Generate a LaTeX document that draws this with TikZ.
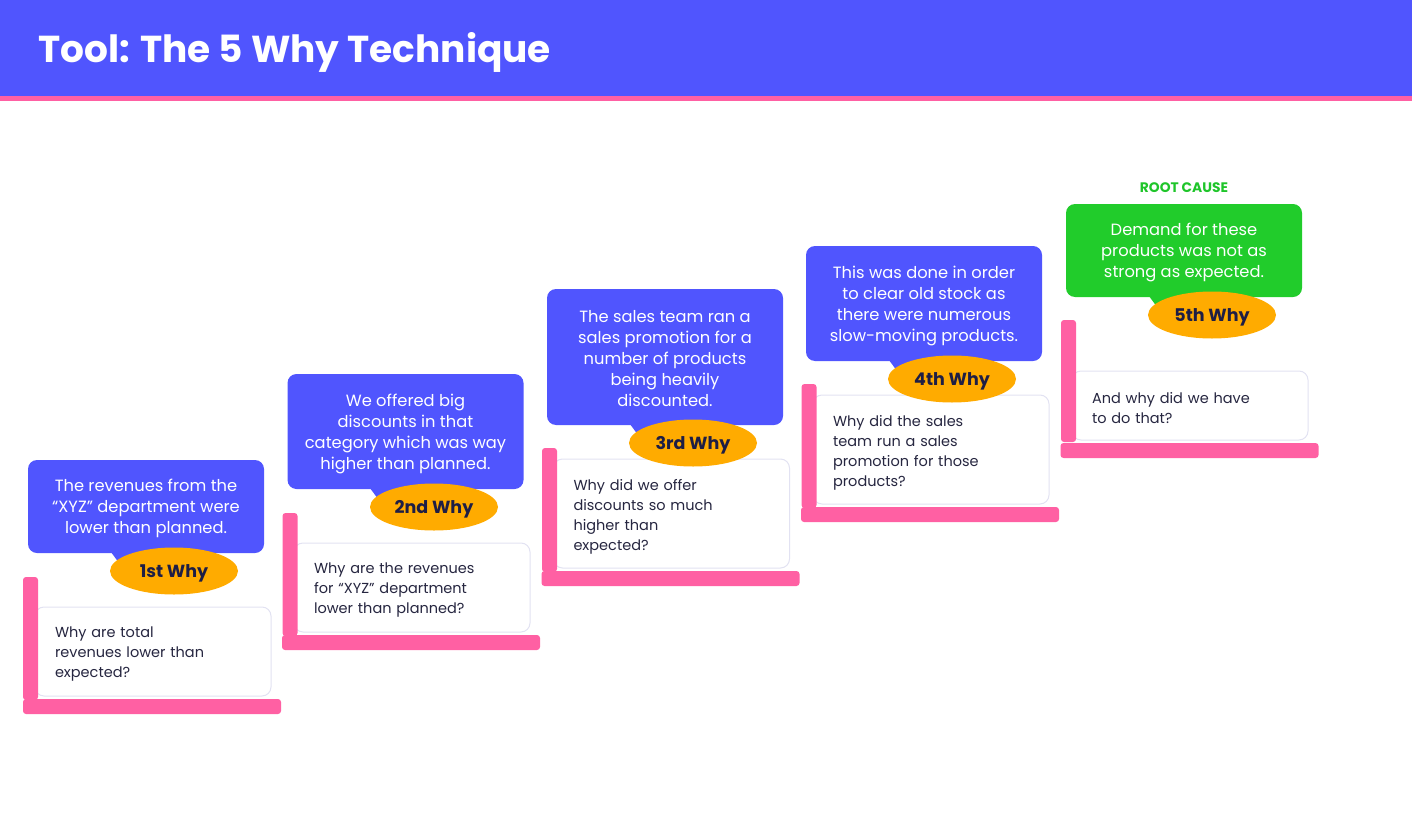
\documentclass[tikz,border=0pt]{standalone}
\usepackage{fontspec}
\setmainfont{Poppins}
\usetikzlibrary{shapes.geometric}
\definecolor{hblue}{HTML}{5055FE}
\definecolor{hpink}{HTML}{FF60A3}
\definecolor{horange}{HTML}{FFAB00}
\definecolor{hgreen}{HTML}{21CC2B}
\definecolor{rgreen}{HTML}{1FC52A}
\definecolor{navy}{HTML}{1E1E45}
\definecolor{qtext}{HTML}{262640}
\definecolor{boxline}{HTML}{E2E2F2}
\tikzset{
  bubble/.style={fill=hblue, rounded corners=9pt, minimum width=236pt, inner sep=0pt},
  greenbubble/.style={bubble, fill=hgreen},
  btext/.style={text=white, align=center, inner sep=0pt, yshift=-2pt, font=\fontsize{16.3}{21}\selectfont},
  tailshape/.style={fill=hblue},
  whylabel/.style={ellipse, fill=horange, minimum width=128pt, minimum height=47pt, inner sep=0pt},
  wtext/.style={text=navy, inner sep=0pt, yshift=-2pt, font=\fontsize{17.5}{20}\bfseries\selectfont},
  qbox/.style={draw=boxline, line width=1pt, fill=white, rounded corners=9pt, minimum width=236pt, inner sep=0pt},
  qtextst/.style={text width=196pt, inner sep=0pt, align=left, text=qtext, yshift=-3pt,
    font=\fontsize{14.5}{20}\selectfont},
  vbar/.style={fill=hpink, rounded corners=3pt, minimum width=15pt, inner sep=0pt},
  hbar/.style={fill=hpink, rounded corners=3pt, minimum height=15pt, minimum width=258pt, inner sep=0pt},
}
\begin{document}
\begin{tikzpicture}[x=1pt,y=-1pt]
\useasboundingbox (0,0) rectangle (1412,821);
% header
\fill[hblue] (0,0) rectangle (1412,97);
\fill[hpink] (0,96) rectangle (1412,101);
\node[anchor=west, text=white, font=\fontsize{37.5}{44}\bfseries\selectfont, inner sep=0pt] (title) at (38,52.5) {Tool: The 5 Why Technique};

% ---------- step 1
\node[qbox, minimum height=89pt] (q1) at (153,651.5) {};
\node[qtextst] (q1t) at (q1) {Why are total\\revenues lower than\\expected?};
\node[vbar, minimum height=123pt] (v1) at (30.5,638.5) {};
\node[hbar] (h1) at (152,706.5) {};
\fill[tailshape] (108,548) -- (142,548) -- (122,567) -- cycle;
\node[bubble, minimum height=93pt] (b1) at (146,506.5) {};
\node[btext] (b1t) at (b1) {The revenues from the\\“XYZ” department were\\lower than planned.};
\node[whylabel] (w1) at (174,571) {};
\node[wtext] (w1t) at (w1) {1st Why};

% ---------- step 2
\node[qbox, minimum height=89pt] (q2) at (412,587.5) {};
\node[qtextst] (q2t) at (q2) {Why are the revenues\\for “XYZ” department\\lower than planned?};
\node[vbar, minimum height=123pt] (v2) at (290,574.5) {};
\node[hbar] (h2) at (411,642.5) {};
\fill[tailshape] (367,484) -- (401,484) -- (381,503) -- cycle;
\node[bubble, minimum height=115pt] (b2) at (405.5,431.5) {};
\node[btext] (b2t) at (b2) {We offered big\\discounts in that\\category which was way\\higher than planned.};
\node[whylabel] (w2) at (434,507) {};
\node[wtext] (w2t) at (w2) {2nd Why};

% ---------- step 3
\node[qbox, minimum height=109pt] (q3) at (671.5,513.5) {};
\node[qtextst] (q3t) at (q3) {Why did we offer\\discounts so much\\higher than\\expected?};
\node[vbar, minimum height=124pt] (v3) at (549.5,510) {};
\node[hbar] (h3) at (670.5,578.5) {};
\fill[tailshape] (627,420) -- (661,420) -- (641,439) -- cycle;
\node[bubble, minimum height=136pt] (b3) at (665,357) {};
\node[btext] (b3t) at (b3) {The sales team ran a\\sales promotion for a\\number of products\\being heavily\\discounted.};
\node[whylabel] (w3) at (693,443) {};
\node[wtext] (w3t) at (w3) {3rd Why};

% ---------- step 4
\node[qbox, minimum height=109pt] (q4) at (931,449.5) {};
\node[qtextst] (q4t) at (q4) {Why did the sales\\team run a sales\\promotion for those\\products?};
\node[vbar, minimum height=124pt] (v4) at (809,446) {};
\node[hbar] (h4) at (930,514.5) {};
\fill[tailshape] (886,356) -- (920,356) -- (900,375) -- cycle;
\node[bubble, minimum height=115pt] (b4) at (924,303.5) {};
\node[btext] (b4t) at (b4) {This was done in order\\to clear old stock as\\there were numerous\\slow-moving products.};
\node[whylabel] (w4) at (952,379) {};
\node[wtext] (w4t) at (w4) {4th Why};

% ---------- step 5
\node[qbox, minimum height=69pt] (q5) at (1190,405.5) {};
\node[qtextst] (q5t) at (q5) {And why did we have\\to do that?};
\node[vbar, minimum height=122pt] (v5) at (1068.5,381) {};
\node[hbar] (h5) at (1189.5,450.5) {};
\fill[hgreen] (1146,292) -- (1180,292) -- (1160,311) -- cycle;
\node[greenbubble, minimum height=93pt] (b5) at (1184,250.5) {};
\node[btext] (b5t) at (b5) {Demand for these\\products was not as\\strong as expected.};
\node[whylabel] (w5) at (1212,315) {};
\node[wtext] (w5t) at (w5) {5th Why};
\node[text=rgreen, font=\fontsize{13.8}{16}\bfseries\selectfont, inner sep=0pt] (root) at (1184,187.5) {ROOT CAUSE};
\end{tikzpicture}
\end{document}
